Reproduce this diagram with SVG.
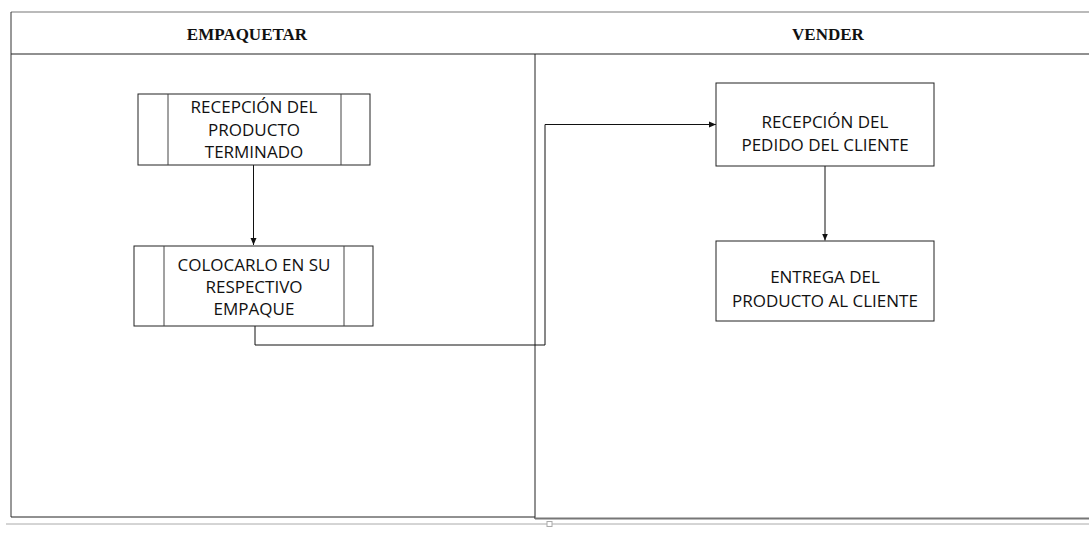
<svg xmlns="http://www.w3.org/2000/svg" width="1089" height="533" viewBox="0 0 1089 533">
<style>
.box{fill:#fff;stroke:#222;stroke-width:1}
.in{fill:none;stroke:#444;stroke-width:1}
.lbl{font-family:"Open Sans","Liberation Sans",sans-serif;font-size:17px;fill:#111;text-anchor:middle}
.hdr{font-family:"Liberation Serif",serif;font-size:17px;font-weight:bold;fill:#111;text-anchor:middle}
.con{fill:none;stroke:#111;stroke-width:1}
</style>
<defs>
<marker id="ah" markerWidth="8" markerHeight="8" refX="7" refY="4" orient="auto" markerUnits="userSpaceOnUse">
<path d="M0,1 L7,4 L0,7 Z" fill="#111"/>
</marker>
</defs>
<rect width="1089" height="533" fill="#fff"/>
<g id="pool">
<line x1="11" y1="12" x2="1089" y2="12" stroke="#777" stroke-width="1.2"/>
<line x1="11" y1="12" x2="11" y2="517" stroke="#333" stroke-width="1"/>
<line x1="11" y1="54" x2="1089" y2="54" stroke="#222" stroke-width="1.2"/>
<line x1="11" y1="517" x2="535" y2="517" stroke="#222" stroke-width="1"/>
<line x1="535" y1="54" x2="535" y2="519" stroke="#222" stroke-width="1"/>
<line x1="535" y1="518.5" x2="1089" y2="518.5" stroke="#777" stroke-width="2"/>
<line x1="6" y1="524" x2="1089" y2="524" stroke="#aaa" stroke-width="1"/>
<rect x="547" y="521.5" width="5" height="5" fill="#fff" stroke="#aaa" stroke-width="1"/>
<text class="hdr" x="247" y="40">EMPAQUETAR</text>
<text class="hdr" x="828" y="40">VENDER</text>
</g>
<g id="connectors">
<line class="con" x1="253.5" y1="165" x2="253.5" y2="245" stroke-width="1.5" marker-end="url(#ah)"/>
<polyline class="con" points="255,326 255,345 545,345 545,124.5 716,124.5" marker-end="url(#ah)"/>
<line class="con" x1="825" y1="166" x2="825" y2="240.5" marker-end="url(#ah)"/>
</g>
<g id="n1">
<rect class="box" x="138" y="94" width="232" height="71"/>
<line class="in" x1="168" y1="94" x2="168" y2="165"/>
<line class="in" x1="341" y1="94" x2="341" y2="165"/>
<text class="lbl" x="254" y="113">RECEPCIÓN DEL</text>
<text class="lbl" x="254" y="136">PRODUCTO</text>
<text class="lbl" x="254" y="158">TERMINADO</text>
</g>
<g id="n2">
<rect class="box" x="134" y="246" width="239" height="80"/>
<line class="in" x1="164" y1="246" x2="164" y2="326"/>
<line class="in" x1="344" y1="246" x2="344" y2="326"/>
<text class="lbl" x="254" y="271">COLOCARLO EN SU</text>
<text class="lbl" x="254" y="293">RESPECTIVO</text>
<text class="lbl" x="254" y="315">EMPAQUE</text>
</g>
<g id="n3">
<rect class="box" x="716" y="83" width="218" height="83"/>
<text class="lbl" x="825" y="128">RECEPCIÓN DEL</text>
<text class="lbl" x="825" y="151">PEDIDO DEL CLIENTE</text>
</g>
<g id="n4">
<rect class="box" x="716" y="241" width="218" height="80"/>
<text class="lbl" x="825" y="283">ENTREGA DEL</text>
<text class="lbl" x="825" y="307">PRODUCTO AL CLIENTE</text>
</g>
</svg>
